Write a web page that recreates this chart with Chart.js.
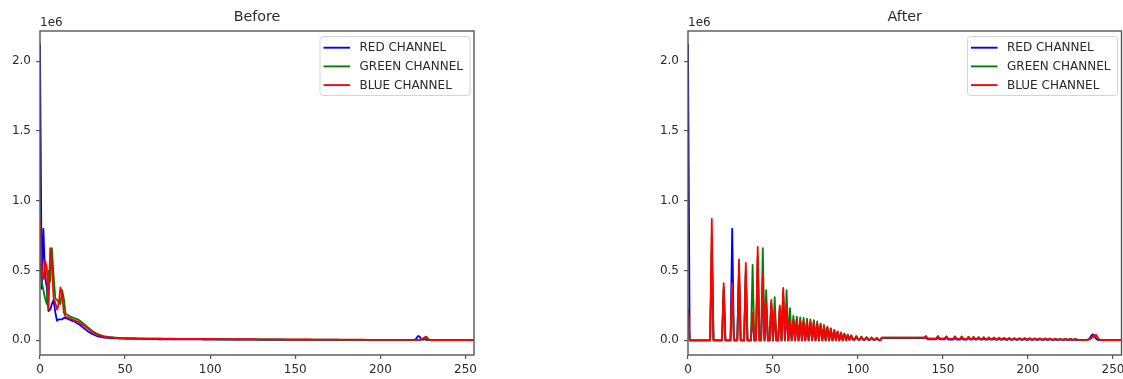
<!DOCTYPE html>
<html><head><meta charset="utf-8">
<script src="https://cdn.jsdelivr.net/npm/chart.js@4.4.1/dist/chart.umd.min.js"></script>
<style>
html,body{margin:0;padding:0;background:#fff;width:1123px;height:379px;overflow:hidden}
.wrap{position:absolute;top:0;height:379px}
#w1{left:0;width:490px}
#w2{left:640px;width:483px}
canvas{display:block}
</style></head><body>
<div class="wrap" id="w1"><canvas id="c1" width="490" height="379" style="width:490px;height:379px"></canvas></div>
<div class="wrap" id="w2"><canvas id="c2" width="483" height="379" style="width:483px;height:379px"></canvas></div>
<script>
// ---- categories / ticks ----
const bins = Array.from({length: 256}, (_, i) => i);   // pixel intensity bins 0..255
const xTicks = [0, 50, 100, 150, 200, 250];
const xTickLabels = ['0', '50', '100', '150', '200', '250'];
const yTicks = [0, 0.5, 1.0, 1.5, 2.0];
const yTickLabels = ['0.0', '0.5', '1.0', '1.5', '2.0'];
const seriesLabels = ['RED CHANNEL', 'GREEN CHANNEL', 'BLUE CHANNEL'];
const titles = ['Before', 'After'];
const exponentLabel = '1e6';

// ---- values in millions of pixels ----
const beforeRed = [
2.12,0.37,0.80,0.45,0.38,0.21,0.22,0.26,0.29,0.20,0.14,0.15,0.15,0.15,0.16,0.16,
0.155,0.15,0.145,0.14,0.135,0.13,0.12,0.115,0.105,0.095,0.085,0.075,0.066,0.058,0.05,0.044,
0.038,0.033,0.029,0.026,0.023,0.021,0.019,0.018,0.017,0.016,0.015,0.015,0.014,0.014,0.013,0.013,
0.012,0.012,0.012,0.011,0.011,0.011,0.011,0.010,0.010,0.010,0.010,0.010,0.010,0.009,0.009,0.009,
0.009,0.009,0.009,0.009,0.009,0.008,0.008,0.008,0.008,0.008,0.008,0.008,0.008,0.008,0.008,0.008,
0.007,0.007,0.007,0.007,0.007,0.007,0.007,0.007,0.007,0.007,0.007,0.007,0.007,0.007,0.007,0.007,
0.006,0.006,0.006,0.006,0.006,0.006,0.006,0.006,0.006,0.006,0.006,0.006,0.006,0.006,0.006,0.006,
0.005,0.005,0.005,0.005,0.005,0.005,0.005,0.005,0.005,0.005,0.005,0.005,0.005,0.005,0.005,0.005,
0.004,0.004,0.004,0.004,0.004,0.004,0.004,0.004,0.004,0.004,0.004,0.004,0.004,0.004,0.004,0.004,
0.004,0.004,0.004,0.004,0.004,0.004,0.004,0.004,0.004,0.004,0.004,0.004,0.004,0.004,0.004,0.004,
0.003,0.003,0.003,0.003,0.003,0.003,0.003,0.003,0.003,0.003,0.003,0.003,0.003,0.003,0.003,0.003,
0.003,0.003,0.003,0.003,0.003,0.003,0.003,0.003,0.003,0.003,0.003,0.003,0.003,0.003,0.003,0.003,
0.003,0.003,0.003,0.003,0.003,0.003,0.003,0.003,0.003,0.003,0.003,0.003,0.003,0.003,0.003,0.003,
0.003,0.003,0.003,0.003,0.003,0.003,0.003,0.003,0.003,0.003,0.003,0.003,0.003,0.012,0.030,0.028,
0.010,0.004,0.008,0.004,0.002,0.001,0.001,0.001,0.001,0.001,0.001,0.001,0.001,0.001,0.001,0.001,
0.001,0.001,0.001,0.001,0.001,0.001,0.001,0.001,0.001,0.001,0.001,0.001,0.001,0.001,0.001,0.001
];
const beforeGreen = [
0.55,0.42,0.36,0.30,0.26,0.50,0.42,0.66,0.46,0.30,0.29,0.27,0.26,0.36,0.30,0.19,
0.185,0.175,0.17,0.165,0.16,0.155,0.15,0.145,0.135,0.125,0.115,0.105,0.095,0.085,0.075,0.066,
0.058,0.051,0.045,0.04,0.036,0.032,0.029,0.027,0.025,0.023,0.022,0.021,0.02,0.019,0.018,0.018,
0.017,0.017,0.016,0.016,0.016,0.015,0.015,0.015,0.015,0.014,0.014,0.014,0.014,0.014,0.013,0.013,
0.013,0.013,0.013,0.013,0.013,0.013,0.013,0.013,0.012,0.012,0.012,0.012,0.012,0.012,0.012,0.012,
0.011,0.011,0.011,0.011,0.011,0.011,0.011,0.011,0.010,0.010,0.010,0.010,0.010,0.010,0.010,0.010,
0.009,0.009,0.009,0.009,0.009,0.009,0.009,0.009,0.008,0.008,0.008,0.008,0.008,0.008,0.008,0.008,
0.007,0.007,0.007,0.007,0.007,0.007,0.007,0.007,0.007,0.007,0.007,0.007,0.007,0.007,0.007,0.007,
0.006,0.006,0.006,0.006,0.006,0.006,0.006,0.006,0.006,0.006,0.006,0.006,0.006,0.006,0.006,0.006,
0.005,0.005,0.005,0.005,0.005,0.005,0.005,0.005,0.005,0.005,0.005,0.005,0.005,0.005,0.005,0.005,
0.005,0.005,0.005,0.005,0.005,0.005,0.005,0.005,0.005,0.005,0.005,0.005,0.005,0.005,0.005,0.005,
0.004,0.004,0.004,0.004,0.004,0.004,0.004,0.004,0.004,0.004,0.004,0.004,0.004,0.004,0.004,0.004,
0.004,0.004,0.004,0.004,0.004,0.004,0.004,0.004,0.004,0.004,0.004,0.004,0.004,0.004,0.004,0.004,
0.003,0.003,0.003,0.003,0.003,0.003,0.003,0.003,0.003,0.003,0.003,0.003,0.003,0.003,0.003,0.003,
0.005,0.012,0.020,0.016,0.004,0.001,0.001,0.001,0.001,0.001,0.001,0.001,0.001,0.001,0.001,0.001,
0.001,0.001,0.001,0.001,0.001,0.001,0.001,0.001,0.001,0.001,0.001,0.001,0.001,0.001,0.001,0.001
];
const beforeBlue = [
0.87,0.50,0.44,0.57,0.52,0.22,0.66,0.55,0.30,0.27,0.22,0.26,0.38,0.33,0.20,0.17,
0.165,0.16,0.155,0.15,0.145,0.14,0.135,0.13,0.12,0.11,0.105,0.095,0.085,0.075,0.066,0.058,
0.05,0.044,0.039,0.035,0.031,0.028,0.026,0.024,0.022,0.021,0.02,0.019,0.018,0.017,0.017,0.016,
0.016,0.015,0.015,0.015,0.014,0.014,0.014,0.014,0.013,0.013,0.013,0.013,0.013,0.012,0.012,0.012,
0.012,0.012,0.012,0.012,0.012,0.012,0.012,0.012,0.011,0.011,0.011,0.011,0.011,0.011,0.011,0.011,
0.011,0.011,0.011,0.011,0.011,0.011,0.011,0.011,0.010,0.010,0.010,0.010,0.010,0.010,0.010,0.010,
0.010,0.010,0.010,0.010,0.010,0.010,0.010,0.010,0.009,0.009,0.009,0.009,0.009,0.009,0.009,0.009,
0.008,0.008,0.008,0.008,0.008,0.008,0.008,0.008,0.008,0.008,0.008,0.008,0.008,0.008,0.008,0.008,
0.007,0.007,0.007,0.007,0.007,0.007,0.007,0.007,0.007,0.007,0.007,0.007,0.007,0.007,0.007,0.007,
0.006,0.006,0.006,0.006,0.006,0.006,0.006,0.006,0.006,0.006,0.006,0.006,0.006,0.006,0.006,0.006,
0.005,0.005,0.005,0.005,0.005,0.005,0.005,0.005,0.005,0.005,0.005,0.005,0.005,0.005,0.005,0.005,
0.005,0.005,0.005,0.005,0.005,0.005,0.005,0.005,0.005,0.005,0.005,0.005,0.005,0.005,0.005,0.005,
0.004,0.004,0.004,0.004,0.004,0.004,0.004,0.004,0.004,0.004,0.004,0.004,0.004,0.004,0.004,0.004,
0.004,0.004,0.004,0.004,0.004,0.004,0.004,0.004,0.004,0.004,0.004,0.004,0.004,0.004,0.004,0.004,
0.006,0.014,0.022,0.026,0.012,0.003,0.001,0.001,0.001,0.001,0.001,0.001,0.001,0.001,0.001,0.001,
0.001,0.001,0.001,0.001,0.001,0.001,0.001,0.001,0.001,0.001,0.001,0.001,0.001,0.001,0.001,0.001
];

const afterRed = [
2.12,0,0,0,0,0,0,0,0,0,0,0,0,0,0.62,0,
0,0,0,0,0,0.36,0,0,0,0,0.80,0,0,0,0.50,0,
0,0,0.48,0,0,0,0.18,0,0,0.55,0,0,0.40,0,0.24,0,
0,0.25,0,0.19,0,0,0.22,0,0.32,0,0.22,0,0.13,0,0.14,0,
0.14,0,0.135,0,0.13,0,0.13,0,0.125,0,0.12,0,0.11,0,0.105,0,
0.095,0,0.085,0,0.077,0,0.066,0,0.057,0,0.05,0,0.043,0,0.037,0.003,
0.032,0.005,0.005,0.027,0.005,0.005,0.023,0.004,0.004,0.02,0.004,0.004,0.018,0.004,0.004,0.016,
0.003,0,0.016,0.016,0.016,0.016,0.016,0.016,0.016,0.016,0.016,0.016,0.016,0.016,0.016,0.016,
0.016,0.016,0.016,0.016,0.016,0.016,0.016,0.016,0.016,0.016,0.016,0.016,0.02,0.007,0.007,0.007,
0.007,0.007,0.007,0.02,0.007,0.007,0.007,0.007,0.019,0.006,0.006,0.006,0.006,0.018,0.006,0.006,
0.006,0.017,0.006,0.006,0.006,0.016,0.006,0.006,0.015,0.005,0.005,0.014,0.005,0.005,0.013,0.005,
0.005,0.013,0.005,0.005,0.012,0.005,0.005,0.012,0.005,0.005,0.011,0.004,0.004,0.011,0.004,0.004,
0.01,0.004,0.004,0.01,0.004,0.004,0.009,0.004,0.004,0.009,0.004,0.004,0.009,0.004,0.004,0.008,
0.004,0.004,0.008,0.003,0.003,0.008,0.003,0.003,0.007,0.003,0.003,0.007,0.003,0.003,0.007,0.003,
0.003,0.006,0.003,0.003,0.006,0.003,0.003,0.003,0.003,0.003,0.003,0.004,0.01,0.03,0.043,0.035,
0.012,0.004,0.001,0.001,0.001,0.001,0.001,0.001,0.001,0.001,0.001,0.001,0.001,0.001,0.001,0.001
];
const afterGreen = [
0.22,0,0,0,0,0,0,0,0,0,0,0,0,0,0.75,0,
0,0,0,0,0,0.38,0,0,0,0,0.40,0,0,0,0.52,0,
0,0,0.50,0,0,0,0.54,0,0,0.60,0,0,0.66,0,0.36,0,
0,0.27,0,0.31,0,0,0.24,0,0.35,0,0.36,0,0.23,0,0.175,0,
0.17,0,0.165,0,0.16,0,0.155,0,0.15,0,0.145,0,0.135,0,0.12,0,
0.11,0,0.098,0,0.086,0,0.074,0,0.064,0,0.056,0,0.048,0,0.041,0.004,
0.035,0.006,0.006,0.03,0.006,0.006,0.026,0.005,0.005,0.022,0.005,0.005,0.02,0.005,0.005,0.018,
0.004,0,0.019,0.019,0.019,0.019,0.019,0.019,0.019,0.019,0.019,0.019,0.019,0.019,0.019,0.019,
0.019,0.019,0.019,0.019,0.019,0.019,0.019,0.019,0.019,0.019,0.019,0.019,0.029,0.012,0.012,0.012,
0.012,0.012,0.012,0.03,0.012,0.012,0.012,0.012,0.028,0.011,0.011,0.011,0.011,0.027,0.011,0.011,
0.011,0.027,0.01,0.01,0.01,0.026,0.01,0.01,0.025,0.01,0.01,0.023,0.009,0.009,0.022,0.009,
0.009,0.021,0.009,0.009,0.02,0.008,0.008,0.019,0.008,0.008,0.018,0.008,0.008,0.017,0.007,0.007,
0.016,0.007,0.007,0.016,0.007,0.007,0.015,0.007,0.007,0.015,0.006,0.006,0.014,0.006,0.006,0.014,
0.006,0.006,0.013,0.006,0.006,0.013,0.005,0.005,0.012,0.005,0.005,0.011,0.005,0.005,0.01,0.005,
0.005,0.01,0.005,0.005,0.009,0.004,0.004,0.004,0.004,0.004,0.004,0.004,0.007,0.014,0.022,0.03,
0.036,0.018,0.003,0.001,0.001,0.001,0.001,0.001,0.001,0.001,0.001,0.001,0.001,0.001,0.001,0.001
];
const afterBlue = [
0.20,0,0,0,0,0,0,0,0,0,0,0,0,0,0.87,0,
0,0,0,0,0,0.41,0,0,0,0,0.41,0,0,0,0.58,0,
0,0,0.555,0,0,0,0.20,0,0,0.67,0,0,0.47,0,0.27,0,
0,0.29,0,0.22,0,0,0.25,0,0.375,0,0.25,0,0.14,0,0.15,0,
0.15,0,0.145,0,0.14,0,0.14,0,0.135,0,0.13,0,0.12,0,0.115,0,
0.105,0,0.095,0,0.085,0,0.072,0,0.062,0,0.055,0,0.047,0,0.04,0.004,
0.035,0.006,0.006,0.03,0.006,0.006,0.026,0.006,0.005,0.022,0.005,0.005,0.02,0.005,0.005,0.018,
0.004,0,0.02,0.02,0.02,0.02,0.02,0.02,0.02,0.02,0.02,0.02,0.02,0.02,0.02,0.02,
0.02,0.02,0.02,0.02,0.02,0.02,0.02,0.02,0.02,0.02,0.02,0.02,0.03,0.012,0.012,0.012,
0.012,0.012,0.012,0.03,0.012,0.012,0.012,0.012,0.028,0.011,0.011,0.011,0.011,0.027,0.011,0.011,
0.011,0.026,0.01,0.01,0.01,0.025,0.01,0.01,0.024,0.01,0.01,0.022,0.009,0.009,0.021,0.009,
0.009,0.02,0.009,0.009,0.019,0.008,0.008,0.018,0.008,0.008,0.017,0.008,0.008,0.016,0.007,0.007,
0.016,0.007,0.007,0.015,0.007,0.007,0.015,0.007,0.007,0.014,0.006,0.006,0.014,0.006,0.006,0.013,
0.006,0.006,0.013,0.006,0.006,0.012,0.005,0.005,0.012,0.005,0.005,0.011,0.005,0.005,0.01,0.005,
0.005,0.01,0.005,0.005,0.009,0.004,0.004,0.004,0.004,0.004,0.004,0.004,0.008,0.015,0.025,0.032,
0.04,0.02,0.003,0.001,0.001,0.001,0.001,0.001,0.001,0.001,0.001,0.001,0.001,0.001,0.001,0.001
];

const lineColors = ['#0000ff', '#008000', '#ff0000'];

const FONT = '"DejaVu Sans", sans-serif';
Chart.defaults.font.family = FONT;
Chart.defaults.font.size = 12;
Chart.defaults.color = '#2a2a2a';

const decorPlugin = {
  id: 'decor',
  afterDatasetsDraw(chart) {
    const a = chart.chartArea, ctx = chart.ctx;
    ctx.save();
    ctx.strokeStyle = '#555';
    ctx.lineWidth = 1.4;
    ctx.strokeRect(a.left, a.top, a.right - a.left, a.bottom - a.top);
    ctx.restore();
  },
  afterDraw(chart, args, opts) {
    const a = chart.chartArea, ctx = chart.ctx;
    ctx.save();
    ctx.fillStyle = '#2a2a2a';
    ctx.font = '14.3px ' + FONT;
    ctx.textAlign = 'center';
    ctx.textBaseline = 'middle';
    ctx.fillText(opts.title, (a.left + a.right) / 2, 17);
    ctx.font = '12px ' + FONT;
    ctx.textAlign = 'left';
    ctx.fillText(exponentLabel, a.left, 23);
    // legend
    const bw = 150, bh = 59;
    const bx = a.right - 4 - bw, by = 36.5;
    ctx.beginPath();
    if (ctx.roundRect) ctx.roundRect(bx, by, bw, bh, 3); else ctx.rect(bx, by, bw, bh);
    ctx.fillStyle = 'rgba(255,255,255,0.85)';
    ctx.fill();
    ctx.strokeStyle = '#d4d4d4';
    ctx.lineWidth = 1;
    ctx.stroke();
    chart.data.datasets.forEach((ds, i) => {
      const y = 47.7 + i * 18.7;
      ctx.beginPath();
      ctx.strokeStyle = ds.borderColor;
      ctx.lineWidth = 1.9;
      ctx.moveTo(bx + 3.5, y);
      ctx.lineTo(bx + 30, y);
      ctx.stroke();
      ctx.fillStyle = '#2a2a2a';
      ctx.font = '12px ' + FONT;
      ctx.textBaseline = 'middle';
      ctx.fillText(ds.label, bx + 39.5, y + 0.5);
    });
    ctx.restore();
  }
};

function makeChart(id, title, seriesList, yAxisWidth, padRight) {
  const datasets = seriesList.map((vals, k) => ({
    label: seriesLabels[k],
    data: vals.map((v, i) => ({x: bins[i], y: v})),
    borderColor: lineColors[k],
    backgroundColor: lineColors[k],
    borderWidth: 1.8,
    borderJoinStyle: 'round',
    borderCapStyle: 'round',
    pointRadius: 0,
    tension: 0,
    fill: false,
    order: 2 - k
  }));
  return new Chart(document.getElementById(id), {
    type: 'line',
    data: {datasets},
    plugins: [decorPlugin],
    options: {
      responsive: false,
      animation: false,
      events: [],
      layout: {padding: {top: 31, right: padRight, left: 0, bottom: 0}},
      plugins: {
        legend: {display: false},
        tooltip: {enabled: false},
        decor: {title}
      },
      scales: {
        x: {
          type: 'linear', min: 0, max: 255,
          afterBuildTicks: s => { s.ticks = xTicks.map(v => ({value: v})); },
          afterFit: s => { s.height = 24; s.paddingLeft = 0; s.paddingRight = 0; },
          ticks: {autoSkip: false, maxRotation: 0, padding: 4,
                  callback: (v, i) => xTickLabels[i]},
          grid: {drawOnChartArea: false, drawTicks: true, tickLength: 4, color: '#555', lineWidth: 1.2},
          border: {display: false}
        },
        y: {
          type: 'linear', min: -0.105, max: 2.216,
          afterBuildTicks: s => { s.ticks = yTicks.map(v => ({value: v})); },
          afterFit: s => { s.width = yAxisWidth; s.paddingTop = 0; s.paddingBottom = 0; },
          ticks: {padding: 5, callback: (v, i) => yTickLabels[i]},
          grid: {drawOnChartArea: false, drawTicks: true, tickLength: 4, color: '#555', lineWidth: 1.2},
          border: {display: false}
        }
      }
    }
  });
}

makeChart('c1', titles[0], [beforeRed, beforeGreen, beforeBlue], 40, 16);
makeChart('c2', titles[1], [afterRed, afterGreen, afterBlue], 48, 1.5);
</script>
</body></html>
